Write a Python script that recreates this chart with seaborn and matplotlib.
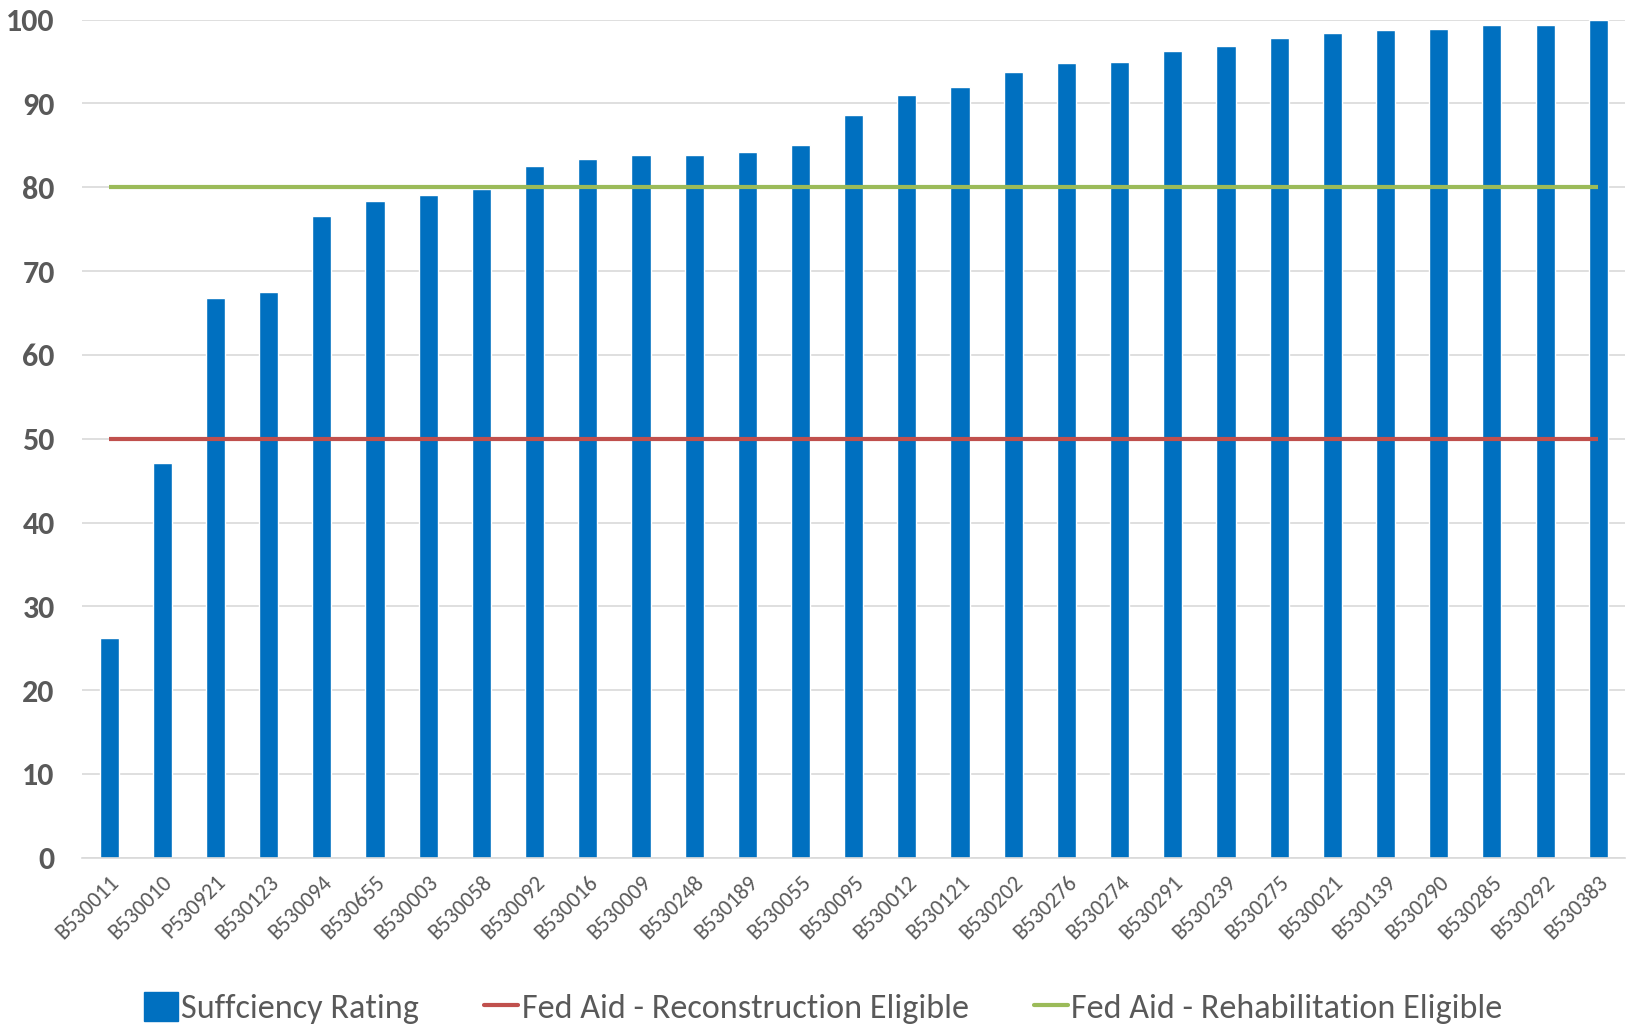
import pandas as pd
import matplotlib
matplotlib.use("Agg")
import matplotlib.pyplot as plt
from matplotlib.patches import Patch
from matplotlib.lines import Line2D
import seaborn as sns

# bridge ids and their sufficiency ratings
bridges = ['B530011', 'B530010', 'P530921', 'B530123', 'B530094', 'B530655', 'B530003',
           'B530058', 'B530092', 'B530016', 'B530009', 'B530248', 'B530189', 'B530055',
           'B530095', 'B530012', 'B530121', 'B530202', 'B530276', 'B530274', 'B530291',
           'B530239', 'B530275', 'B530021', 'B530139', 'B530290', 'B530285', 'B530292',
           'B530383']
rating = [26.2, 47.1, 66.8, 67.5, 76.6, 78.4, 79.1, 79.8, 82.5, 83.4, 83.8, 83.9, 84.2, 85.0,
          88.6, 91.0, 91.9, 93.7, 94.8, 94.9, 96.3, 96.9, 97.8, 98.4, 98.7, 98.9, 99.4, 99.4,
          99.9]
reconstruction_limit = 50
rehabilitation_limit = 80

blue = '#0070C0'
red = '#C0504D'
green = '#9BBB59'
grey = '#595959'

sns.set_style('white')
plt.rcParams['font.family'] = ['Carlito', 'Lato', 'DejaVu Sans']

df = pd.DataFrame({'bridge': bridges, 'rating': rating})

fig = plt.figure(figsize=(16.27, 10.31), dpi=100)
ax = fig.add_axes([0.0507, 0.168, 0.948, 0.813])

sns.barplot(data=df, x='bridge', y='rating', color=blue, width=0.36, saturation=1, ax=ax, zorder=2)

# threshold lines run from the first to the last bar centre
n = len(bridges)
ax.hlines(reconstruction_limit, 0, n - 1, color=red, lw=3, zorder=3)
ax.hlines(rehabilitation_limit, 0, n - 1, color=green, lw=3, zorder=3)

ax.set_ylim(0, 100)
ax.set_xlim(-0.5, n - 0.5)
ax.set_yticks(range(0, 101, 10))
ax.yaxis.grid(True, color='#D9D9D9', lw=1.2, zorder=0)
ax.set_axisbelow(True)
for s in ['top', 'right', 'left']:
    ax.spines[s].set_visible(False)
ax.spines['bottom'].set_color('#D9D9D9')
ax.spines['bottom'].set_linewidth(1.2)
ax.set_xlabel('')
ax.set_ylabel('')
ax.tick_params(axis='y', length=0, pad=20, labelsize=23, labelcolor=grey)
for t in ax.get_yticklabels():
    t.set_fontweight('bold')
ax.tick_params(axis='x', length=0, pad=10, labelsize=16, labelcolor=grey)
plt.setp(ax.get_xticklabels(), rotation=45, ha='right', rotation_mode='anchor')

handles = [Patch(color=blue),
           Line2D([0], [0], color=red, lw=3),
           Line2D([0], [0], color=green, lw=3)]
labels = ['Suffciency Rating', 'Fed Aid - Reconstruction Eligible', 'Fed Aid - Rehabilitation Eligible']
fig.legend(handles, labels, loc='center', bbox_to_anchor=(0.506, 0.022), ncol=3, frameon=False,
           fontsize=24.6, labelcolor=grey, handlelength=1.0, handleheight=0.9, handletextpad=0.1,
           columnspacing=1.9)

fig.savefig('out.png', dpi=100)
